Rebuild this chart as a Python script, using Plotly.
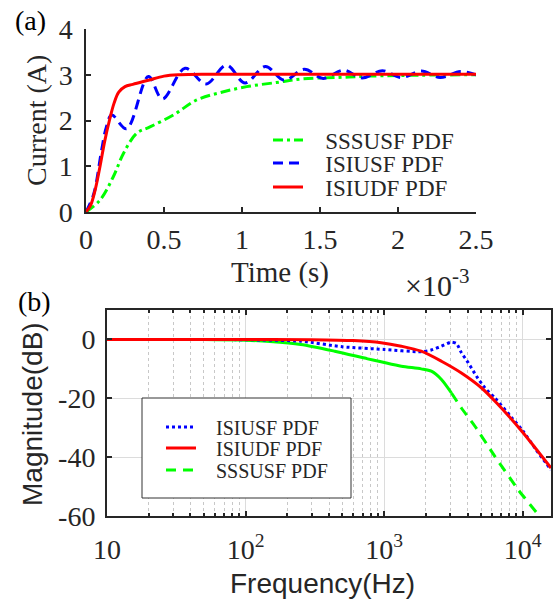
import plotly.graph_objects as go

W, H = 557, 607

# ---------- (a) time-domain data (time in units of 1e-3 s) ----------
t_sss = [0, 0.09, 0.175, 0.24, 0.325, 0.41, 0.56, 0.71, 0.86, 1.03, 1.22, 1.39, 1.61, 1.82, 2.14, 2.5]
i_sss = [0, 0.26, 0.77, 1.28, 1.72, 1.86, 2.12, 2.45, 2.61, 2.74, 2.83, 2.91, 2.94, 2.97, 2.99, 3.0]

t_isus = [0, 0.05, 0.1, 0.13, 0.165, 0.26, 0.40, 0.49, 0.635, 0.77, 0.90, 1.02, 1.15, 1.27,
          1.40, 1.52, 1.65, 1.77, 1.90, 2.02, 2.15, 2.27, 2.40, 2.5]
i_isus = [0, 0.4, 1.35, 1.85, 2.12, 1.82, 2.96, 2.47, 3.14, 2.80, 3.21, 2.82, 3.18, 2.88,
          3.12, 2.92, 3.10, 2.93, 3.09, 2.94, 3.08, 2.94, 3.07, 3.0]

t_isud = [0, 0.03, 0.06, 0.09, 0.12, 0.15, 0.18, 0.21, 0.25, 0.3, 0.4, 0.5, 0.6, 0.8, 1.5, 2.5]
i_isud = [0, 0.15, 0.5, 1.0, 1.55, 2.0, 2.38, 2.62, 2.74, 2.79, 2.88, 2.97, 3.0, 3.01, 3.01, 3.01]

time_ticks = [0, 0.5, 1, 1.5, 2, 2.5]
time_ticktext = ["0", "0.5", "1", "1.5", "2", "2.5"]
cur_ticks = [0, 1, 2, 3, 4]

# ---------- (b) frequency-domain data ----------
f_isus = [10, 100, 250, 500, 1000, 1850, 2190, 2590, 3060, 3330, 3610, 4040, 4640, 5340, 6310,
          8300, 10000, 12500, 16000]
m_isus = [0, -0.1, -0.6, -2.5, -3.4, -4.2, -3.6, -2.3, -0.9, -1.4, -4.5, -7.9, -12.5, -16.5, -19.9,
          -26.5, -31.0, -37.5, -44.3]

f_isud = [10, 100, 300, 600, 950, 1330, 1850, 2590, 3610, 5050, 6490, 9850, 16000]
m_isud = [0, 0, -0.1, -0.4, -1.1, -2.3, -4.0, -7.4, -11.4, -16.5, -21.6, -31.2, -43.7]

f_sss_a = [10, 50, 100, 150, 250, 440, 760, 950, 1330, 1850, 2190, 2590, 3060]
m_sss_a = [0, -0.05, -0.3, -0.7, -1.7, -4.0, -6.6, -7.6, -9.1, -10.0, -10.8, -13.6, -18.2]
f_sss_b = [3060, 3610, 4520, 6310, 9290, 12970, 14500]
m_sss_b = [-18.2, -23.3, -29.5, -39.8, -51.1, -59.6, -62.5]

freq_ticks = [10, 100, 1000, 10000]
freq_ticktext = ["10", "10<sup>2</sup>", "10<sup>3</sup>", "10<sup>4</sup>"]
mag_ticks = [-60, -40, -20, 0]
mag_ticktext = ["-60", "-40", "-20", "0"]

GREEN, BLUE, RED = "#00ff00", "#0000ff", "#ff0000"
SERIF = "Liberation Serif"
SANS = "Liberation Sans"
AX = "#262626"
NB = "\u00a0\u00a0\u00a0"

def px(x):
    return x / W

def py(y):
    return 1 - y / H

fig = go.Figure()

# top traces
fig.add_trace(go.Scatter(x=t_sss, y=i_sss, mode="lines", name=NB + "SSSUSF PDF", legend="legend",
                         line=dict(color=GREEN, width=3, dash="10px,4px,3px,4px", shape="spline"),
                         xaxis="x", yaxis="y"))
fig.add_trace(go.Scatter(x=t_isus, y=i_isus, mode="lines", name=NB + "ISIUSF PDF", legend="legend2",
                         line=dict(color=BLUE, width=3, dash="10px,6px", shape="spline"),
                         xaxis="x", yaxis="y"))
fig.add_trace(go.Scatter(x=t_isud, y=i_isud, mode="lines", name=NB + "ISIUDF PDF", legend="legend3",
                         line=dict(color=RED, width=3, shape="spline"),
                         xaxis="x", yaxis="y"))

# bottom traces
fig.add_trace(go.Scatter(x=f_sss_a, y=m_sss_a, mode="lines", showlegend=False,
                         line=dict(color=GREEN, width=3, shape="spline", smoothing=0.8),
                         xaxis="x2", yaxis="y2"))
fig.add_trace(go.Scatter(x=f_sss_b, y=m_sss_b, mode="lines", name=NB + "SSSUSF PDF", legend="legend6",
                         line=dict(color=GREEN, width=3, dash="10px,7px", shape="spline", smoothing=0.5),
                         xaxis="x2", yaxis="y2"))
fig.add_trace(go.Scatter(x=f_isus, y=m_isus, mode="lines", name=NB + "ISIUSF PDF", legend="legend4",
                         line=dict(color=BLUE, width=3, dash="3px,3px", shape="spline", smoothing=0.6),
                         xaxis="x2", yaxis="y2"))
fig.add_trace(go.Scatter(x=f_isud, y=m_isud, mode="lines", name=NB + "ISIUDF PDF", legend="legend5",
                         line=dict(color=RED, width=3, shape="spline", smoothing=0.8),
                         xaxis="x2", yaxis="y2"))

tickfont = dict(family=SERIF, size=28, color="#262626")

minor_f = [m * d for d in (10, 100, 1000) for m in range(2, 10)] + [20000]

fig.update_layout(
    width=W, height=H,
    margin=dict(l=0, r=0, t=0, b=0),
    paper_bgcolor="white", plot_bgcolor="white",
    xaxis=dict(domain=[px(86), px(476)], range=[0, 2.5], tickvals=time_ticks, ticktext=time_ticktext,
               ticks="inside", ticklen=5, tickwidth=1.5, tickcolor=AX, showline=True, linecolor=AX,
               linewidth=1.5, showgrid=False, zeroline=False, tickfont=tickfont, automargin=False,
               anchor="y", ticklabelstandoff=2),
    yaxis=dict(domain=[py(212), py(29)], range=[0, 4], tickvals=cur_ticks,
               ticks="inside", ticklen=5, tickwidth=1.5, tickcolor=AX, showline=True, linecolor=AX,
               linewidth=1.5, showgrid=False, zeroline=False, tickfont=tickfont, automargin=False,
               anchor="x", ticklabelstandoff=6),
    xaxis2=dict(domain=[px(107), px(551)], type="log", range=[1, 4.2041], tickvals=freq_ticks,
                ticktext=freq_ticktext, ticks="inside", ticklen=5, tickwidth=1.5, tickcolor=AX,
                showline=True, mirror="allticks", linecolor=AX, linewidth=2,
                showgrid=True, gridcolor="#dcdcdc", gridwidth=1, zeroline=False,
                tickfont=tickfont, automargin=False, anchor="y2", ticklabelstandoff=7,
                minor=dict(tickvals=minor_f, ticks="inside", ticklen=3, tickcolor=AX,
                           showgrid=True, gridcolor="#c8c8c8", griddash="dot", gridwidth=1)),
    yaxis2=dict(domain=[py(516), py(310)], range=[-60, 10], tickvals=mag_ticks, ticktext=mag_ticktext,
                ticks="inside", ticklen=5, tickwidth=1.5, tickcolor=AX, showline=True, mirror="allticks",
                linecolor=AX, linewidth=2, showgrid=True, gridcolor="#dcdcdc", gridwidth=1,
                zeroline=False, tickfont=tickfont, automargin=False, anchor="x2", ticklabelstandoff=4),
    font=dict(family=SERIF, color="#262626"),
)

leg_top = dict(font=dict(family=SERIF, size=23, color="#262626"), bgcolor="rgba(0,0,0,0)",
               borderwidth=0, xanchor="left", yanchor="middle", tracegroupgap=0)
leg_bot = dict(font=dict(family=SERIF, size=20, color="#262626"), bgcolor="rgba(0,0,0,0)",
               borderwidth=0, xanchor="left", yanchor="middle", tracegroupgap=0)

fig.update_layout(
    legend=dict(x=px(268), y=py(140), **leg_top),
    legend2=dict(x=px(268), y=py(163), **leg_top),
    legend3=dict(x=px(268), y=py(187), **leg_top),
    legend4=dict(x=px(161), y=py(427), **leg_bot),
    legend5=dict(x=px(161), y=py(448), **leg_bot),
    legend6=dict(x=px(161), y=py(470), **leg_bot),
)

# legend frame for panel (b)
fig.add_shape(type="rect", xref="paper", yref="paper", x0=px(142), x1=px(351), y0=py(498), y1=py(398),
              line=dict(color="#333333", width=1), fillcolor="white", layer="above")

ann = [
    dict(text="(a)", x=px(30), y=py(21), font=dict(family=SERIF, size=28, color="#000")),
    dict(text="(b)", x=px(34), y=py(302), font=dict(family=SERIF, size=28, color="#000")),
    dict(text="Current (A)", x=px(36), y=py(121), textangle=-90,
         font=dict(family=SERIF, size=28, color="#262626")),
    dict(text="Time (s)", x=px(280), y=py(272), font=dict(family=SERIF, size=29, color="#262626")),
    dict(text="×10<sup>-3</sup>", x=px(437), y=py(283), font=dict(family=SERIF, size=30, color="#262626")),
    dict(text="Magnitude(dB)", x=px(32), y=py(414), textangle=-90,
         font=dict(family=SANS, size=28, color="#262626")),
    dict(text="Frequency(Hz)", x=px(322), y=py(583), font=dict(family=SANS, size=28, color="#262626")),
]
for a in ann:
    fig.add_annotation(xref="paper", yref="paper", showarrow=False, xanchor="center", yanchor="middle", **a)

fig.write_html("out.html")
